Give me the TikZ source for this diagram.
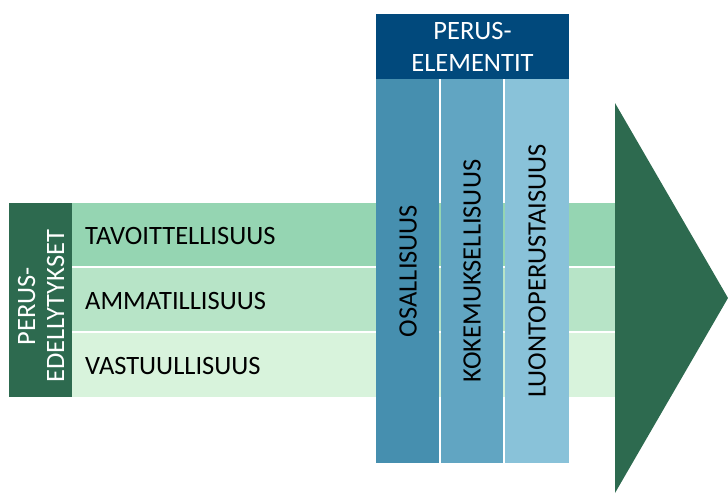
\documentclass[tikz,border=0pt]{standalone}
\usepackage{fontspec}
\setmainfont{Carlito}
\usepackage{tikz}
\definecolor{DeepGreen}{HTML}{2D6A4F}
\definecolor{RowA}{HTML}{95D5B2}
\definecolor{RowB}{HTML}{B7E4C7}
\definecolor{RowC}{HTML}{D8F3DC}
\definecolor{HeadBlue}{HTML}{01497C}
\definecolor{ColA}{HTML}{468FAF}
\definecolor{ColB}{HTML}{61A5C2}
\definecolor{ColC}{HTML}{89C2D9}
\newcommand{\boxfont}{\fontsize{26.5}{29}\selectfont}
\tikzset{
  rowtext/.style={anchor=west, inner sep=0pt, font=\boxfont, text=black},
  coltext/.style={rotate=90, inner sep=0pt, font=\boxfont, text=black},
  headtext/.style={align=center, inner sep=0pt, font=\boxfont, text=white},
}

\begin{document}
\begin{tikzpicture}[x=1pt, y=-1pt]
  \useasboundingbox (0,0) rectangle (728,493);

  % Rows of the band
  \fill[RowA] (72,203) rectangle (615,266);
  \fill[RowB] (72,268) rectangle (615,331);
  \fill[RowC] (72,333) rectangle (615,397);
  \node[rowtext] (tavoite) at (85,236) {TAVOITTELLISUUS};
  \node[rowtext] (ammatti) at (85,301) {AMMATILLISUUS};
  \node[rowtext] (vastuu) at (85,366) {VASTUULLISUUS};

  % Left label box
  \fill[DeepGreen] (9,203) rectangle (72,397);
  \node[headtext, rotate=90] (edellytys) at (41,306) {PERUS-\\EDELLYTYKSET};

  % Columns
  \fill[HeadBlue] (376,14) rectangle (569,79);
  \node[headtext, font=\fontsize{26.5}{32}\selectfont] (elementit) at (472.5,47) {PERUS-\\ELEMENTIT};
  \fill[ColA] (376,79) rectangle (439,463);
  \fill[ColB] (441,79) rectangle (503,463);
  \fill[ColC] (505,79) rectangle (569,463);
  \node[coltext] (osallisuus) at (408,271) {OSALLISUUS};
  \node[coltext] (kokemus) at (472,271) {KOKEMUKSELLISUUS};
  \node[coltext] (luonto) at (537,271) {LUONTOPERUSTAISUUS};

  % Arrow head
  \fill[DeepGreen] (615,103) -- (728,298) -- (615,493) -- cycle;
\end{tikzpicture}
\end{document}
